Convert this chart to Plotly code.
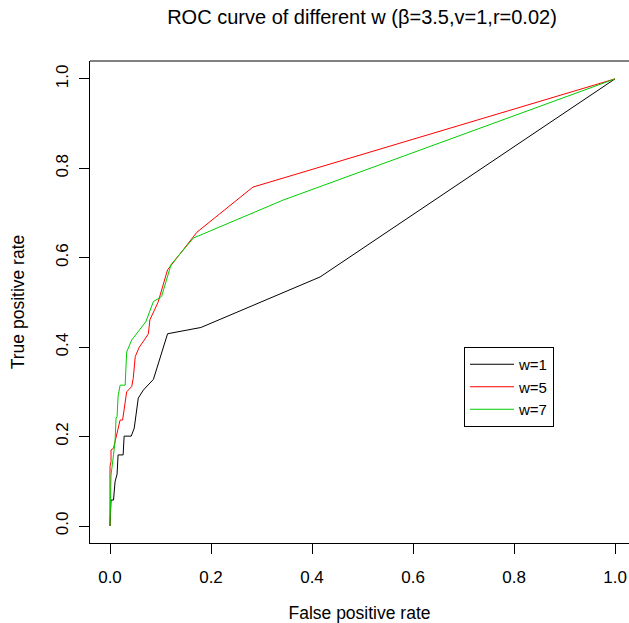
import plotly.graph_objects as go

# ROC curve points (false positive rate, true positive rate) for each w
fpr_w1 = [0, 0.002, 0.007, 0.010, 0.014, 0.016, 0.026, 0.028, 0.042, 0.048,
          0.056, 0.066, 0.086, 0.114, 0.180, 0.416, 1.0]
tpr_w1 = [0, 0.058, 0.058, 0.099, 0.116, 0.159, 0.159, 0.201, 0.201, 0.219,
          0.286, 0.304, 0.328, 0.430, 0.444, 0.557, 1.0]

fpr_w5 = [0, 0, 0.002, 0.002, 0.007, 0.015, 0.020, 0.025, 0.033, 0.043,
          0.046, 0.050, 0.058, 0.068, 0.076, 0.079, 0.095, 0.114, 0.172,
          0.283, 1.0]
tpr_w5 = [0, 0.133, 0.144, 0.170, 0.174, 0.215, 0.237, 0.237, 0.300, 0.312,
          0.330, 0.379, 0.400, 0.416, 0.430, 0.461, 0.500, 0.573, 0.657,
          0.758, 1.0]

fpr_w7 = [0, 0.002, 0.007, 0.010, 0.012, 0.014, 0.016, 0.020, 0.030, 0.033,
          0.043, 0.058, 0.071, 0.086, 0.102, 0.121, 0.165, 0.343, 1.0]
tpr_w7 = [0, 0.114, 0.159, 0.190, 0.241, 0.245, 0.290, 0.315, 0.315, 0.389,
          0.416, 0.438, 0.457, 0.502, 0.513, 0.585, 0.644, 0.729, 1.0]

series = [
    ("w=1", fpr_w1, tpr_w1, "#000000"),
    ("w=5", fpr_w5, tpr_w5, "#FF0000"),
    ("w=7", fpr_w7, tpr_w7, "#00CD00"),
]

tick_vals = [0.0, 0.2, 0.4, 0.6, 0.8, 1.0]
tick_text = ["0.0", "0.2", "0.4", "0.6", "0.8", "1.0"]

FONT = "Liberation Sans, Arial, Helvetica, sans-serif"

fig = go.Figure()
for name, xs, ys, color in series:
    fig.add_trace(go.Scatter(x=xs, y=ys, mode="lines", name=name,
                             line=dict(color=color, width=1)))

W, H = 629, 623
L, T, B = 90, 61, 80

fig.update_layout(
    width=W, height=H,
    margin=dict(l=L, r=0, t=T, b=B),
    paper_bgcolor="white", plot_bgcolor="white",
    font=dict(family=FONT, size=17, color="black"),
    title=dict(text="ROC curve of different w (β=3.5,v=1,r=0.02)",
               x=362 / W, xanchor="center", xref="container",
               y=1 - 17 / H, yanchor="middle", yref="container",
               font=dict(size=20, family=FONT, color="black")),
    showlegend=True,
    legend=dict(x=(464 - L) / (W - L), y=(H - B - 347) / (H - B - T),
                xanchor="left", yanchor="top",
                bgcolor="white", bordercolor="black", borderwidth=1,
                font=dict(size=15, family=FONT, color="black"),
                tracegroupgap=0, itemwidth=44),
    xaxis=dict(range=[-0.0396, 1.0277], showgrid=False, zeroline=False,
               tickmode="array", tickvals=tick_vals, ticktext=tick_text,
               ticks="outside", ticklen=10, tickwidth=1, tickcolor="black",
               ticklabelstandoff=9,
               showline=True, linecolor="black", linewidth=1,
               title=dict(text="False positive rate", standoff=21,
                          font=dict(size=17.5, family=FONT))),
    yaxis=dict(range=[-0.038, 1.040], showgrid=False, zeroline=False,
               tickmode="array", tickvals=tick_vals, ticktext=tick_text,
               ticks="outside", ticklen=10, tickwidth=1, tickcolor="black",
               tickangle=-90, ticklabelstandoff=4,
               showline=True, linecolor="black", linewidth=1,
               title=dict(text="True positive rate", standoff=24,
                          font=dict(size=17.5, family=FONT))),
)

# top edge of the plot frame
fig.add_shape(type="line", xref="paper", yref="paper", x0=0, x1=1, y0=1, y1=1,
              line=dict(color="black", width=1))

fig.write_html("out.html")
